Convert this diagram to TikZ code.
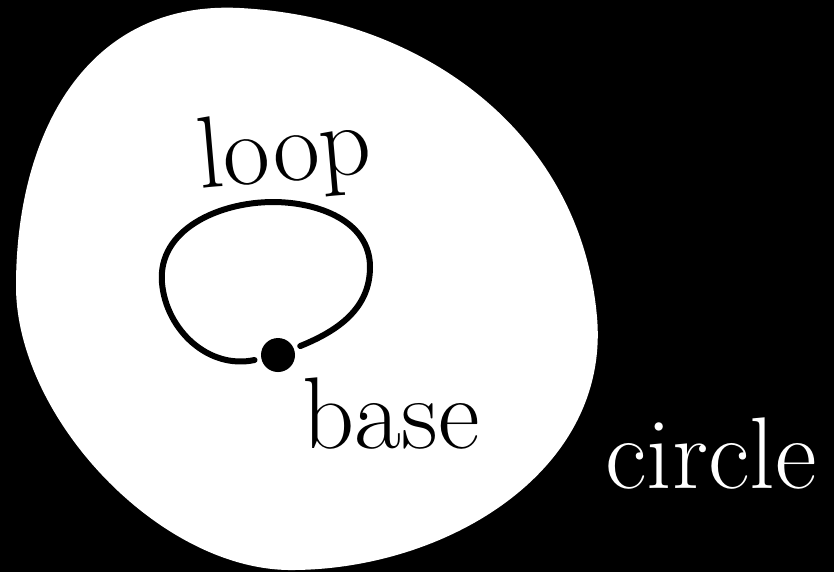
\documentclass[tikz,border=0pt]{standalone}
\usepackage{fontspec}
\begin{document}
\begin{tikzpicture}[
	label/.style={font=\fontsize{29}{32}\selectfont, inner sep=0pt, anchor=base},
	loopline/.style={line width=0.06cm, line cap=round},
	basedot/.style={circle, fill=black, inner sep=0pt, minimum size=0.34cm, outer sep=0.07cm}]
	
	% Background
	\fill[black] (0,0) rectangle (8.34,5.72);
	
	% Blob
	\fill[white] (2.40,5.64) to[out=-3,in=95] (5.97,2.55)
		to[out=-85,in=0] (2.91,0.02)
		to[out=180,in=-90,looseness=0.85] (0.16,2.86)
		to[out=90,in=177,looseness=1.1] cycle;
	
	% Base point and loop
	\node[basedot] (basept) at (2.78,2.17) {};
	\coordinate (lw) at (1.62,2.89);
	\coordinate (ln) at (2.73,3.70);
	\coordinate (le) at (3.70,3.05);
	\draw[loopline] (basept) to[out=192,in=-85] (lw) to[out=95,in=180] (ln)
		to[out=0,in=90] (le) to[out=-90,in=22] (basept);
	
	% Labels
	\node[label, rotate=5] (looplabel) at (2.87,3.91) {loop};
	\node[label] (baselabel) at (3.91,1.24) {base};
	\node[label, white] (circlelabel) at (7.11,0.84) {circle};
\end{tikzpicture}
\end{document}
